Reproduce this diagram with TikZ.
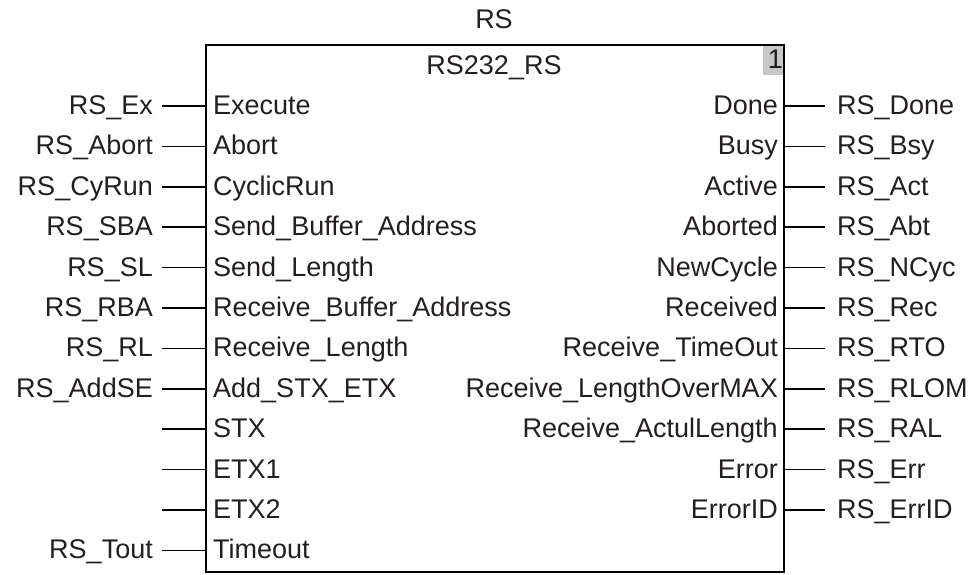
\documentclass[tikz,border=0pt]{standalone}
\usepackage{fontspec}
\setmainfont{Liberation Sans}
\definecolor{txt}{HTML}{231F20}
\definecolor{numgrey}{HTML}{C8C8C8}
\begin{document}
\begin{tikzpicture}[x=1pt,y=-1pt,
  every node/.style={font=\fontsize{27}{30}\selectfont, text=txt, inner ysep=0pt, text height=20pt, text depth=3pt},
  fbbox/.style={draw=black, line width=1.6pt, inner sep=0pt, minimum width=578pt, minimum height=527pt, anchor=north west, text height=, text depth=},
  inpin/.style={anchor=west, inner xsep=8pt},
  outpin/.style={anchor=east, inner xsep=5pt},
  invar/.style={anchor=east, inner xsep=9pt},
  outvar/.style={anchor=west, inner xsep=12pt},
  wire/.style={draw=black, line width=1.6pt}]
\useasboundingbox (0,0) rectangle (977,574);
% instance name and function block
\node (inst) at (494,20) {RS};
\node[fill=numgrey, inner sep=0pt, minimum width=20pt, minimum height=31pt, text height=, text depth=, anchor=north east] (num) at (783,44) {\makebox[20pt][r]{1}};
\node[fbbox] (fb) at (205,44) {};
\node (fbname) at (494,66) {RS232\_RS};
% inputs
\foreach \i/\p/\v/\n in {0/Execute/RS\_Ex/a, 1/Abort/RS\_Abort/b, 2/CyclicRun/RS\_CyRun/c,
  3/Send\_Buffer\_Address/RS\_SBA/d, 4/Send\_Length/RS\_SL/e, 5/Receive\_Buffer\_Address/RS\_RBA/f,
  6/Receive\_Length/RS\_RL/g, 7/Add\_STX\_ETX/RS\_AddSE/h, 11/Timeout/RS\_Tout/l}{
  \node[inpin] (ip\n) at (205,106+40.4*\i) {\p};
  \node[invar] (iv\n) at (162,106+40.4*\i) {\v};
  \draw[wire] (iv\n.east) -- (ip\n.west);
}
\foreach \i/\p/\n in {8/STX/i, 9/ETX1/j, 10/ETX2/k}{
  \node[inpin] (ip\n) at (205,106+40.4*\i) {\p};
  \coordinate (iv\n) at (162,106+40.4*\i);
  \draw[wire] (iv\n) -- (ip\n.west);
}
% outputs
\foreach \i/\p/\v/\n in {0/Done/RS\_Done/a, 1/Busy/RS\_Bsy/b, 2/Active/RS\_Act/c, 3/Aborted/RS\_Abt/d,
  4/NewCycle/RS\_NCyc/e, 5/Received/RS\_Rec/f, 6/Receive\_TimeOut/RS\_RTO/g,
  7/Receive\_LengthOverMAX/RS\_RLOM/h, 8/Receive\_ActulLength/RS\_RAL/i, 9/Error/RS\_Err/j,
  10/ErrorID/RS\_ErrID/k}{
  \node[outpin] (op\n) at (783,106+40.4*\i) {\p};
  \node[outvar] (ov\n) at (825,106+40.4*\i) {\v};
  \draw[wire] (op\n.east) -- (ov\n.west);
}
\end{tikzpicture}
\end{document}
